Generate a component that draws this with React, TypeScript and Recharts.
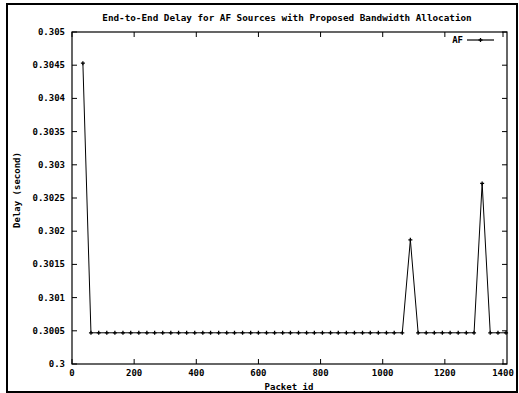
import { Line, LineChart, XAxis, YAxis } from 'recharts'

const packetIds = [
  35, 61, 86, 112, 138, 164, 189, 215, 241, 266,
  292, 318, 343, 369, 395, 421, 446, 472, 498, 523,
  549, 575, 600, 626, 652, 678, 703, 729, 755, 780,
  806, 832, 857, 883, 909, 935, 960, 986, 1012, 1037,
  1063, 1089, 1114, 1140, 1166, 1192, 1217, 1243, 1269, 1294,
  1320, 1346, 1371, 1397,
]

const afDelay = [
  0.30453, 0.30047, 0.30047, 0.30047, 0.30047, 0.30047, 0.30047, 0.30047, 0.30047, 0.30047,
  0.30047, 0.30047, 0.30047, 0.30047, 0.30047, 0.30047, 0.30047, 0.30047, 0.30047, 0.30047,
  0.30047, 0.30047, 0.30047, 0.30047, 0.30047, 0.30047, 0.30047, 0.30047, 0.30047, 0.30047,
  0.30047, 0.30047, 0.30047, 0.30047, 0.30047, 0.30047, 0.30047, 0.30047, 0.30047, 0.30047,
  0.30047, 0.30187, 0.30047, 0.30047, 0.30047, 0.30047, 0.30047, 0.30047, 0.30047, 0.30047,
  0.30272, 0.30047, 0.30047, 0.30047,
]

const xTicks = [0, 200, 400, 600, 800, 1000, 1200, 1400]
const yTicks = [0.3, 0.3005, 0.301, 0.3015, 0.302, 0.3025, 0.303, 0.3035, 0.304, 0.3045, 0.305]

const data = packetIds.map((id, i) => ({ id, delay: afDelay[i] }))

const W = 519
const H = 393
const PL = 72
const PR = 507
const PT = 32
const PB = 364
const font = '"DejaVu Sans Mono", monospace'
const txt = { fontFamily: font, fontWeight: 700, fontSize: 9 }

const fmtY = (v: number) => String(Number(v.toFixed(4)))

function YTick({ x, y, payload }: any) {
  return (
    <g>
      <line x1={PL} x2={PL + 5} y1={y} y2={y} stroke="#000" />
      <line x1={PR} x2={PR - 5} y1={y} y2={y} stroke="#000" />
      <text x={x - 7} y={y + 3} textAnchor="end" style={txt} fill="#000">
        {fmtY(payload.value)}
      </text>
    </g>
  )
}

function XTick({ x, y, payload }: any) {
  return (
    <g>
      <line x1={x} x2={x} y1={PB} y2={PB - 5} stroke="#000" />
      <line x1={x} x2={x} y1={PT} y2={PT + 5} stroke="#000" />
      <text x={x} y={y + 12} textAnchor="middle" style={txt} fill="#000">
        {payload.value}
      </text>
    </g>
  )
}

function Cross({ cx, cy }: any) {
  if (cx == null || cy == null) return null
  return (
    <path d={`M${cx - 2},${cy}H${cx + 2}M${cx},${cy - 2}V${cy + 2}`} stroke="#000" strokeWidth={1.3} />
  )
}

export default function App() {
  return (
    <div style={{ position: 'absolute', left: 0, top: 0, width: W, height: H, background: '#fff' }}>
      <LineChart
        width={W}
        height={H}
        data={data}
        margin={{ top: PT, right: W - PR, bottom: 9, left: 12 }}
      >
        <XAxis
          dataKey="id"
          type="number"
          domain={[0, 1400]}
          ticks={xTicks}
          height={20}
          tickSize={0}
          tickMargin={0}
          tick={<XTick />}
          axisLine={false}
        />
        <YAxis
          type="number"
          domain={[0.3, 0.305]}
          ticks={yTicks}
          width={60}
          tickSize={0}
          tickMargin={0}
          tick={<YTick />}
          axisLine={false}
        />
        <rect x={PL} y={PT} width={PR - PL} height={PB - PT} fill="none" stroke="#000" strokeWidth={1.2} />
        <Line
          type="linear"
          dataKey="delay"
          stroke="#000"
          strokeWidth={1}
          dot={<Cross />}
          activeDot={false}
          isAnimationActive={false}
        />
      </LineChart>
      <svg width={W} height={H} style={{ position: 'absolute', left: 0, top: 0, pointerEvents: 'none' }}>
        <rect x={7} y={4} width={510} height={388} fill="none" stroke="#000" strokeWidth={2} />
        <text x={287} y={21} textAnchor="middle" style={{ ...txt, fontSize: 9.3 }} fill="#000">
          End-to-End Delay for AF Sources with Proposed Bandwidth Allocation
        </text>
        <text x={20} y={190} transform="rotate(-90 20 190)" textAnchor="middle" style={txt} fill="#000">
          Delay (second)
        </text>
        <text x={289} y={390} textAnchor="middle" style={txt} fill="#000">
          Packet id
        </text>
        <text x={463} y={43} textAnchor="end" style={txt} fill="#000">
          AF
        </text>
        <line x1={467} x2={494} y1={40} y2={40} stroke="#000" strokeWidth={1.2} />
        <path d="M478.5,40H482.5M480.5,38V42" stroke="#000" strokeWidth={1.3} />
      </svg>
    </div>
  )
}
